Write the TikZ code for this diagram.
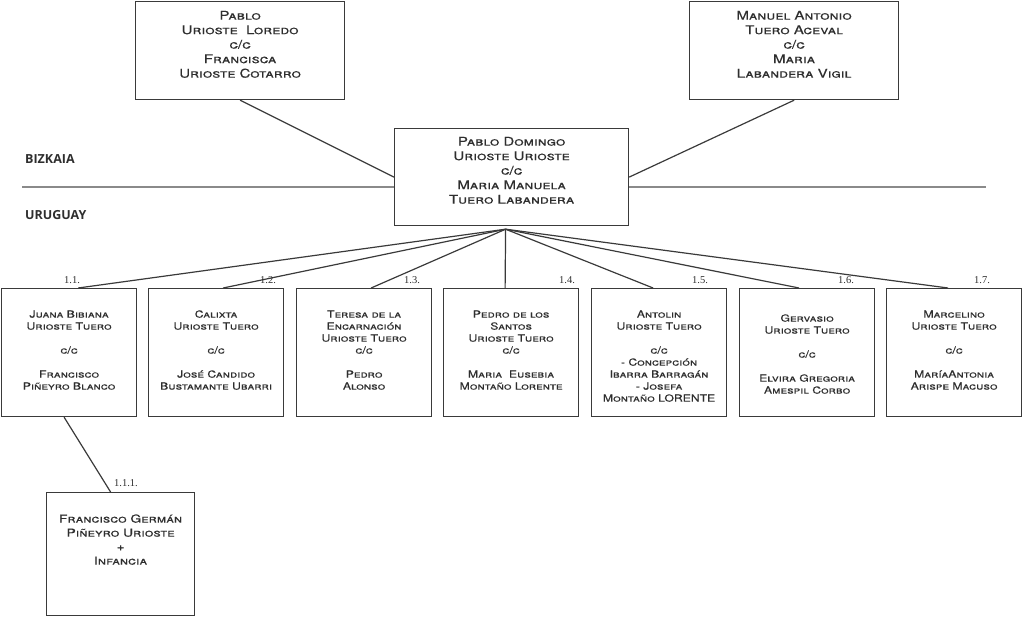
\documentclass[tikz,border=0pt]{standalone}
\usepackage{fontspec}
\newfontfamily\namefont[FakeStretch=1.25, FakeBold=0.4]{TeX Gyre Heros}
\newfontfamily\regionfont{Open Sans}
\newfontfamily\numfont{Liberation Serif}
\definecolor{boxline}{HTML}{3A3A3A}
\definecolor{sepgray}{HTML}{8A8A8A}
\definecolor{nametext}{HTML}{2E2E2E}

\tikzset{
  famille/.style={draw=boxline, line width=1.2pt, fill=white, inner sep=0pt,
    anchor=north west, align=center, text=nametext},
  parents/.style={famille, minimum width=209pt, text height=76pt, text depth=22pt,
    font=\namefont\scshape\fontsize{12}{14.5}\selectfont},
  couple/.style={famille, minimum width=234pt, text height=75pt, text depth=22pt,
    font=\namefont\scshape\fontsize{12}{14.5}\selectfont},
  enfant/.style={famille, minimum width=135pt, text height=101pt, text depth=27pt,
    font=\namefont\scshape\fontsize{9.75}{12}\selectfont},
  petit/.style={famille, minimum width=148pt, text height=72pt, text depth=51pt,
    font=\namefont\scshape\fontsize{11}{14}\selectfont},
  link/.style={draw=boxline, line width=1.2pt},
  numlabel/.style={font=\numfont\fontsize{10.5}{12}\selectfont, text=nametext, inner sep=0pt},
  region/.style={font=\regionfont\bfseries\fontsize{12.5}{14}\selectfont, text=nametext,
    anchor=west, inner sep=0pt}
}

\begin{document}
\begin{tikzpicture}[x=1pt,y=-1pt]
  \useasboundingbox (0,0) rectangle (1024,616);

  % Bizkaia / Uruguay
  \draw[draw=sepgray, line width=1.2pt] (22,187) -- (986,187);
  \node[region] (bizkaia) at (25,159) {BIZKAIA};
  \node[region] (uruguay) at (25,215) {URUGUAY};

  % padres
  \node[parents] (pablo) at (135,1) {Pablo\\Urioste\ \ Loredo\\c/c\\Francisca\\Urioste Cotarro};
  \node[parents] (manuel) at (689,1) {Manuel Antonio\\Tuero Aceval\\c/c\\Maria\\Labandera Vigil};
  \node[couple] (pd) at (394,128) {Pablo Domingo\\Urioste Urioste\\c/c\\Maria Manuela\\Tuero Labandera};
  \draw[link] (pablo.south) -- (pd.west);
  \draw[link] (manuel.south) -- (pd.east);

  % hijos
  \node[enfant] (c1) at (1,288) {Juana Bibiana\\Urioste Tuero\\[12pt]c/c\\[12pt]Francisco\\Piñeyro Blanco};
  \node[enfant] (c2) at (148,288) {Calixta\\Urioste Tuero\\[12pt]c/c\\[12pt]José Candido\\Bustamante Ubarri};
  \node[enfant] (c3) at (296,288) {Teresa de la\\Encarnación\\Urioste Tuero\\c/c\\[12pt]Pedro\\Alonso};
  \node[enfant] (c4) at (443,288) {Pedro de los\\Santos\\Urioste Tuero\\c/c\\[12pt]Maria\ \ Eusebia\\Montaño Lorente};
  \node[enfant, text height=113pt, text depth=15pt] (c5) at (591,288) {Antolin\\Urioste Tuero\\[12pt]c/c\\- Concepción\\Ibarra Barragán\\- Josefa\\Montaño LORENTE};
  \node[enfant, text height=105pt, text depth=23pt] (c6) at (739,288) {Gervasio\\Urioste Tuero\\[12pt]c/c\\[12pt]Elvira Gregoria\\Amespil Corbo};
  \node[enfant] (c7) at (886,288) {Marcelino\\Urioste Tuero\\[12pt]c/c\\[12pt]MaríaAntonia\\Arispe Macuso};

  \coordinate (hub) at ([xshift=-6pt,yshift=-3pt]pd.south);
  \foreach \i/\dx/\lx in {1/9/72, 2/7/268, 3/7/412, 4/-6/567, 5/-6/700, 6/-8/846, 7/-6/982}{
    \draw[link] (hub) -- ([xshift=\dx pt]c\i.north);
    \node[numlabel] (n\i) at (\lx,280) {1.\i.};
  }

  % nieto
  \node[petit] (g1) at (46,492) {Francisco Germán\\Piñeyro Urioste\\+\\Infancia};
  \draw[link] ([xshift=-5pt]c1.south) -- ([xshift=-10pt]g1.north);
  \node[numlabel] (n11) at (126,483) {1.1.1.};
\end{tikzpicture}
\end{document}
